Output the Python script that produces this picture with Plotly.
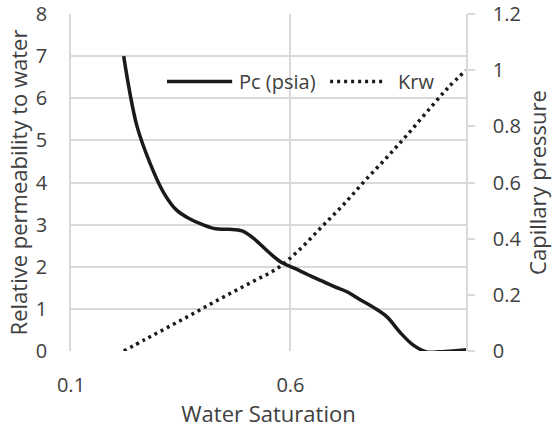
import plotly.graph_objects as go

# Capillary pressure curve (plotted against left axis)
sw_pc = [0.22, 0.25, 0.28, 0.31, 0.34, 0.37, 0.40, 0.43, 0.46, 0.49, 0.52,
         0.55, 0.58, 0.61, 0.64, 0.67, 0.70, 0.73, 0.76, 0.79, 0.82, 0.85,
         0.88, 0.91, 0.94, 0.97, 1.0]
pc = [7.0, 5.35, 4.46, 3.78, 3.35, 3.14, 3.00, 2.90, 2.89, 2.85, 2.64,
      2.35, 2.10, 1.96, 1.81, 1.67, 1.53, 1.40, 1.21, 1.03, 0.81, 0.44,
      0.14, -0.02, -0.02, 0.0, 0.03]

# Relative permeability to water (plotted against right axis)
sw_krw = [0.22, 0.27, 0.32, 0.37, 0.42, 0.47, 0.52, 0.57, 0.62, 0.67, 0.72,
          0.77, 0.82, 0.87, 0.92, 0.96, 1.0]
krw = [0.0, 0.042, 0.084, 0.126, 0.169, 0.211, 0.252, 0.294, 0.36, 0.44, 0.52,
       0.607, 0.69, 0.777, 0.868, 0.939, 1.0]

series_names = ["Pc (psia)", "Krw"]
x_ticks = [0.1, 0.6]
left_ticks = [0, 1, 2, 3, 4, 5, 6, 7, 8]
right_ticks = [0, 0.2, 0.4, 0.6, 0.8, 1.0, 1.2]
right_tick_text = ["0", "0.2", "0.4", "0.6", "0.8", "1", "1.2"]

FONT = "Open Sans"
TXT = "#404040"
GRID = "#d9d9d9"
LINE = "#1a1a1a"
DOT = "3px,4px"

fig = go.Figure()
fig.add_trace(go.Scatter(
    x=sw_pc, y=pc, name=series_names[0], mode="lines",
    line=dict(color=LINE, width=3.5, shape="spline", smoothing=1.0),
    yaxis="y", showlegend=False))
fig.add_trace(go.Scatter(
    x=sw_krw, y=krw, name=series_names[1], mode="lines",
    line=dict(color=LINE, width=3.5, dash=DOT, shape="spline", smoothing=1.0),
    yaxis="y2", showlegend=False))

# Legend drawn in paper coordinates (long line samples as in the reference)
leg_y = 0.80
shapes = [
    dict(type="line", xref="paper", yref="paper", x0=0.243, x1=0.408, y0=leg_y, y1=leg_y,
         line=dict(color=LINE, width=3.5)),
    dict(type="line", xref="paper", yref="paper", x0=0.656, x1=0.795, y0=leg_y, y1=leg_y,
         line=dict(color=LINE, width=3.5, dash=DOT)),
]
annotations = [
    dict(text=series_names[0], xref="paper", yref="paper", x=0.420, y=leg_y,
         xanchor="left", yanchor="middle", showarrow=False,
         font=dict(family=FONT, size=20, color=TXT)),
    dict(text=series_names[1], xref="paper", yref="paper", x=0.822, y=leg_y,
         xanchor="left", yanchor="middle", showarrow=False,
         font=dict(family=FONT, size=20, color=TXT)),
]

fig.update_layout(
    width=552, height=436,
    margin=dict(l=71, r=86, t=14, b=85),
    paper_bgcolor="white", plot_bgcolor="white",
    font=dict(family=FONT, size=20, color=TXT),
    showlegend=False,
    shapes=shapes, annotations=annotations,
    xaxis=dict(range=[0.1, 1.0], tickvals=x_ticks, ticktext=["0.1", "0.6"],
               showgrid=True, gridcolor=GRID, gridwidth=1.5, zeroline=False,
               showline=False, ticks="", ticklabelstandoff=20, automargin=False,
               tickfont=dict(size=20, color=TXT),
               title=dict(text="Water Saturation", font=dict(size=22, color=TXT), standoff=8)),
    yaxis=dict(range=[0, 8], tickvals=left_ticks, showgrid=True, gridcolor=GRID,
               gridwidth=1.5, zeroline=False, showline=True, linecolor=GRID, linewidth=1.5,
               ticks="", ticklabelstandoff=18, automargin=False,
               tickfont=dict(size=20, color=TXT),
               title=dict(text="Relative permeability to water", font=dict(size=22, color=TXT),
                          standoff=2)),
    yaxis2=dict(range=[0, 1.2], tickvals=right_ticks, ticktext=right_tick_text,
                overlaying="y", side="right", showgrid=False, zeroline=False,
                showline=True, linecolor=GRID, linewidth=1.5, automargin=False,
                ticks="outside", ticklen=7, tickcolor=GRID, tickwidth=1.5,
                ticklabelstandoff=14, tickfont=dict(size=20, color=TXT),
                title=dict(text="Capillary pressure", font=dict(size=22, color=TXT),
                           standoff=10)),
)

fig.write_html("out.html")
